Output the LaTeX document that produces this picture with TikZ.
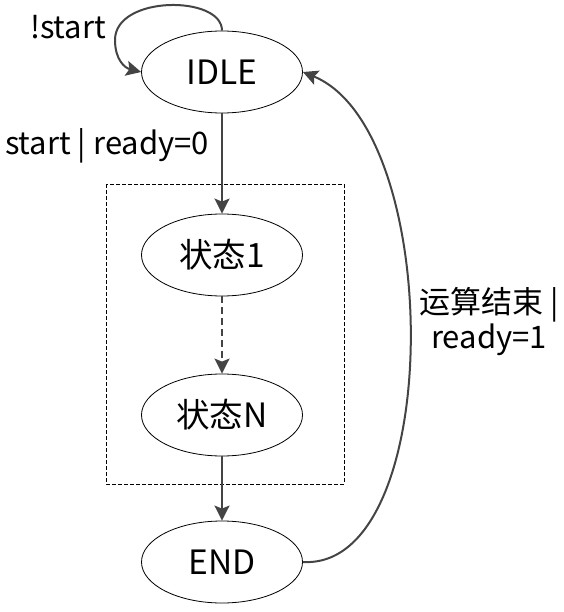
\documentclass[tikz,border=0pt]{standalone}
\usepackage{fontspec}
\setmainfont{Noto Sans CJK SC}
\usetikzlibrary{arrows.meta,shapes.geometric}
\definecolor{arr}{HTML}{444444}
\tikzset{
  st/.style={draw=black, line width=0.8pt, ellipse, minimum width=161pt, minimum height=82pt, inner sep=0pt, font=\fontsize{33.5}{36}\selectfont},
  ar/.style={draw=arr, line width=2pt, -{Stealth[length=15pt,width=15pt,inset=3pt]}},
  lbl/.style={font=\fontsize{31}{35}\selectfont, inner sep=0pt}
}
\begin{document}
\begin{tikzpicture}[x=1pt,y=-1pt]
\useasboundingbox (0,0) rectangle (563,612);
\node[st] (idle) at (222,72) {IDLE};
\node[st] (s1) at (222,255) {状态1};
\node[st] (sn) at (222,415) {状态N};
\node[st] (end) at (222,562) {END};
\draw[black, line width=0.8pt, dash pattern=on 4pt off 2pt] (106,184) rectangle (344,484);
\draw[ar] (idle.south) -- (s1.north);
\draw[ar, dash pattern=on 7pt off 4pt] (s1.south) -- (sn.north);
\draw[ar] (sn.south) -- (end.north);
\draw[ar] (idle.north) .. controls (222,-5) and (115,-5) .. (115,40) .. controls (115,60) and (125,68) .. (idle.west);
\draw[ar] (end.east) .. controls (445,570) and (445,130) .. (idle.east);
\node[lbl] (l1) at (68,27) {!start};
\node[lbl] (l2) at (107,146) {start | ready=0};
\node[lbl, align=center] (l3) at (489,322) {运算结束 |\\ready=1};
\end{tikzpicture}
\end{document}
